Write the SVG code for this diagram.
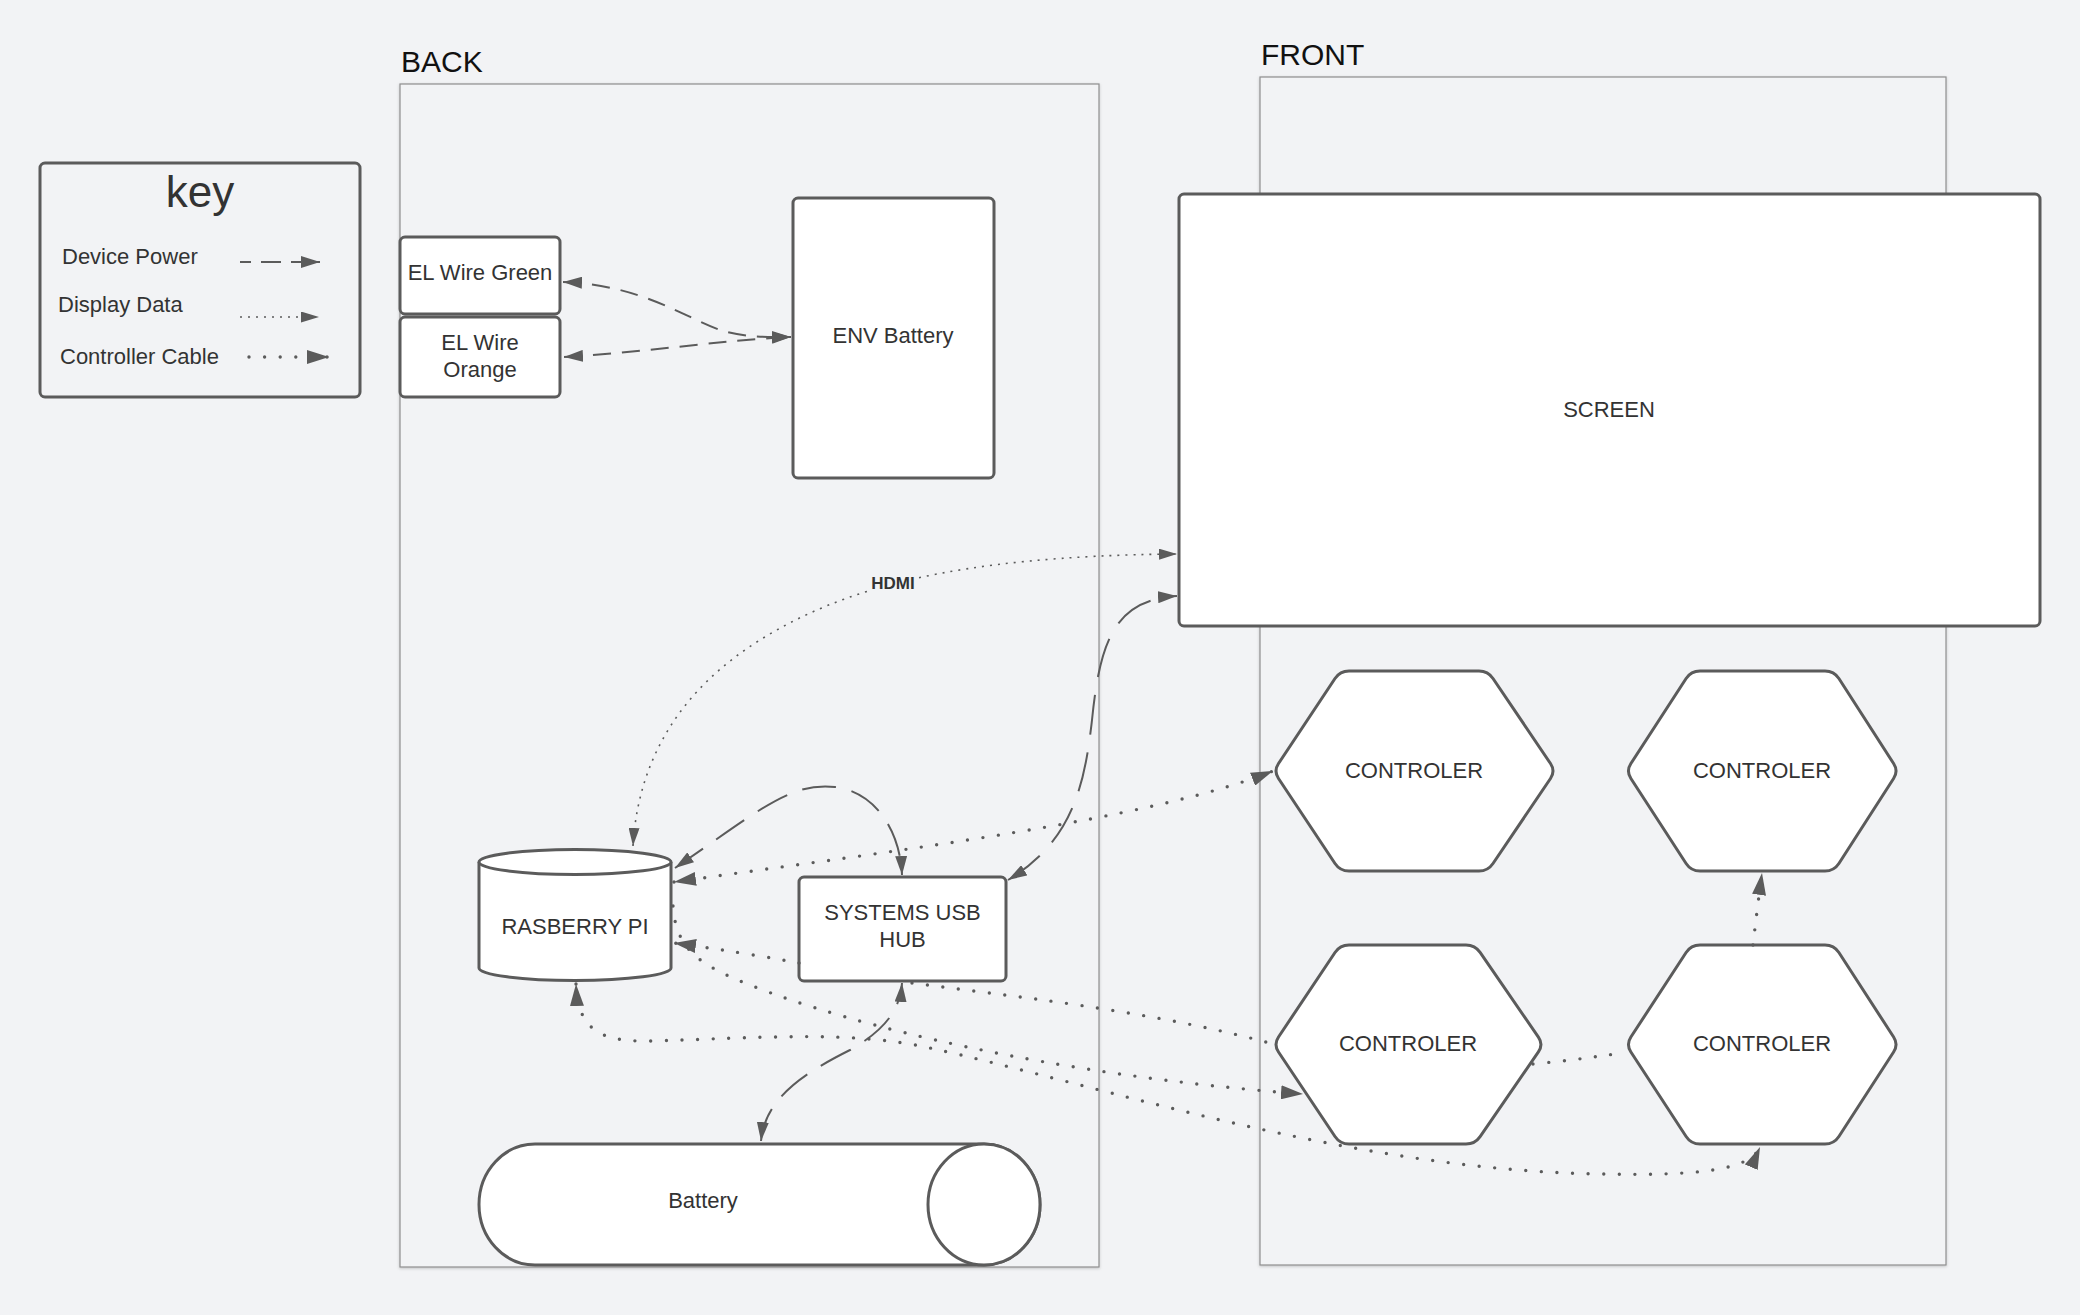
<svg xmlns="http://www.w3.org/2000/svg" width="2080" height="1315" viewBox="0 0 2080 1315">
<style>
.bg{fill:#f2f3f5}
.panel{fill:#f2f3f5;stroke:#8e8e8e;stroke-width:1.2}
.node{fill:#ffffff;stroke:#5b5b5b;stroke-width:3;stroke-linejoin:round}
.t{font-family:"Liberation Sans",Arial,sans-serif;font-size:22px;fill:#333333;text-anchor:middle}
.kt{font-family:"Liberation Sans",Arial,sans-serif;font-size:22px;fill:#333333}
.title{font-family:"Liberation Sans",Arial,sans-serif;font-size:30px;fill:#111111}
.pow{fill:none;stroke:#5b5b5b;stroke-width:2}
.data{fill:none;stroke:#5b5b5b;stroke-width:1.6;stroke-dasharray:2 6}
.ctl{fill:none;stroke:#5b5b5b;stroke-width:3.4;stroke-linecap:round;stroke-dasharray:0 15.6}
</style>
<defs>
<filter id="sh" x="-5%" y="-5%" width="110%" height="110%">
<feDropShadow dx="0" dy="1" stdDeviation="1.5" flood-color="#000" flood-opacity="0.2"/>
</filter>
<marker id="aP" viewBox="0 0 19 12" refX="19" refY="6" markerWidth="19" markerHeight="12" markerUnits="userSpaceOnUse" orient="auto-start-reverse"><path d="M0,0 L19,6 L0,12 Z" fill="#5b5b5b" stroke="none"/></marker>
<marker id="aD" viewBox="0 0 18 11" refX="18" refY="5.5" markerWidth="18" markerHeight="11" markerUnits="userSpaceOnUse" orient="auto-start-reverse"><path d="M0,0 L18,5.5 L0,11 Z" fill="#5b5b5b" stroke="none"/></marker>
<marker id="aC" viewBox="0 0 22 14" refX="22" refY="7" markerWidth="22" markerHeight="14" markerUnits="userSpaceOnUse" orient="auto-start-reverse"><path d="M0,0 L22,7 L0,14 Z" fill="#5b5b5b" stroke="none"/></marker>
</defs>
<rect class="bg" x="0" y="0" width="2080" height="1315"/>

<g id="key">
<rect x="40" y="163" width="320" height="234" rx="5" fill="none" stroke="#5b5b5b" stroke-width="3"/>
<text x="200" y="207" font-family="Liberation Sans, Arial, sans-serif" font-size="44" fill="#333" text-anchor="middle">key</text>
<text class="kt" x="62" y="264">Device Power</text>
<text class="kt" x="58" y="312">Display Data</text>
<text class="kt" x="60" y="364">Controller Cable</text>
<path class="pow" d="M240,262 H320" stroke-dasharray="11 10 20 10 40" marker-end="url(#aP)"/>
<path class="data" d="M240,317 H319" stroke-dasharray="3 7" stroke-width="1.8" marker-end="url(#aD)"/>
<path class="ctl" d="M249,357 H329" stroke-dasharray="0 8.3" stroke-width="3.8" marker-end="url(#aC)"/>
</g>

<g id="back-panel">
<rect class="panel" x="400" y="84" width="699" height="1183" filter="url(#sh)"/>
<text class="title" x="401" y="72">BACK</text>
</g>
<g id="front-panel">
<rect class="panel" x="1260" y="77" width="686" height="1188" filter="url(#sh)"/>
<text class="title" x="1261" y="65">FRONT</text>
</g>

<g id="el-wire-green">
<rect class="node" x="400" y="237" width="160" height="77" rx="5"/>
<text class="t" x="480" y="280">EL Wire Green</text>
</g>
<g id="el-wire-orange">
<rect class="node" x="400" y="317" width="160" height="80" rx="5"/>
<text class="t" x="480" y="350">EL Wire</text>
<text class="t" x="480" y="377">Orange</text>
</g>
<g id="env-battery">
<rect class="node" x="793" y="198" width="201" height="280" rx="5"/>
<text class="t" x="893" y="343">ENV Battery</text>
</g>
<g id="screen">
<rect class="node" x="1179" y="194" width="861" height="432" rx="5"/>
<text class="t" x="1609" y="417">SCREEN</text>
</g>
<g id="raspberry-pi">
<path class="node" d="M479,862 A96,12.5 0 0 1 671,862 V968 A96,12.5 0 0 1 479,968 Z"/>
<path class="node" d="M479,862 A96,12.5 0 0 0 671,862"/>
<text class="t" x="575" y="934">RASBERRY PI</text>
</g>
<g id="usb-hub">
<rect class="node" x="799" y="877" width="207" height="104" rx="5"/>
<text class="t" x="902.5" y="920">SYSTEMS USB</text>
<text class="t" x="902.5" y="947">HUB</text>
</g>
<g id="battery">
<path class="node" d="M535,1144 L984,1144 A56,60.5 0 0 1 984,1265 L535,1265 A56,60.5 0 0 1 535,1144 Z"/>
<ellipse class="node" cx="984" cy="1204.5" rx="56" ry="60.5"/>
<text class="t" x="703" y="1208">Battery</text>
</g>
<g id="controller-1">
<path class="node" d="M1278.5,763.5 L1335,678.5 Q1340,671 1349,671 L1479,671 Q1488,671 1493,678.5 L1550.5,763.5 Q1555.5,771 1550.5,778.5 L1493,863.5 Q1488,871 1479,871 L1349,871 Q1340,871 1335,863.5 L1278.5,778.5 Q1273.5,771 1278.5,763.5 Z"/>
<text class="t" x="1414" y="777.5">CONTROLER</text>
</g>
<g id="controller-2">
<path class="node" d="M1630.9,763.5 L1686.1,678.5 Q1691,671 1700,671 L1825,671 Q1834,671 1838.9,678.5 L1893.6,763.5 Q1898.5,771 1893.6,778.5 L1838.9,863.5 Q1834,871 1825,871 L1700,871 Q1691,871 1686.1,863.5 L1630.9,778.5 Q1626,771 1630.9,763.5 Z"/>
<text class="t" x="1762" y="777.5">CONTROLER</text>
</g>
<g id="controller-3">
<path class="node" d="M1278.5,1037 L1335,952.5 Q1340,945 1349,945 L1466,945 Q1475,945 1480.1,952.4 L1538.4,1037.1 Q1543.5,1044.5 1538.4,1051.9 L1480.1,1136.6 Q1475,1144 1466,1144 L1349,1144 Q1340,1144 1335,1136.5 L1278.5,1052 Q1273.5,1044.5 1278.5,1037 Z"/>
<text class="t" x="1408" y="1051">CONTROLER</text>
</g>
<g id="controller-4">
<path class="node" d="M1630.9,1037 L1686.1,952.5 Q1691,945 1700,945 L1825,945 Q1834,945 1838.9,952.5 L1893.6,1037 Q1898.5,1044.5 1893.6,1052 L1838.9,1136.5 Q1834,1144 1825,1144 L1700,1144 Q1691,1144 1686.1,1136.5 L1630.9,1052 Q1626,1044.5 1630.9,1037 Z"/>
<text class="t" x="1762" y="1051">CONTROLER</text>
</g>

<g id="connectors">
<!-- device power -->
<path class="pow" stroke-dasharray="18 11" d="M563,282 C640,285 680,315 720,330 C745,338 770,337 791,337" marker-start="url(#aP)" marker-end="url(#aP)"/>
<path class="pow" stroke-dasharray="18 11" d="M564,357 C650,352 720,340 791,337" marker-start="url(#aP)" marker-end="url(#aP)"/>
<path class="pow" stroke-dasharray="34 16" d="M675,868 C760,810 790,782 835,787 C875,792 900,830 902,875" marker-start="url(#aP)" marker-end="url(#aP)"/>
<path class="pow" stroke-dasharray="40 18" d="M1008,880 C1075,840 1085,780 1092,720 C1100,640 1115,600 1177,596" marker-start="url(#aP)" marker-end="url(#aP)"/>
<path class="pow" stroke-dasharray="34 16" d="M761,1141 C765,1100 800,1075 850,1050 C885,1030 900,1010 902,983" marker-start="url(#aP)" marker-end="url(#aP)"/>
<!-- display data -->
<path class="data" d="M633,846 C638,760 680,690 760,640 C840,590 950,556 1177,554" marker-start="url(#aD)" marker-end="url(#aD)"/>
<rect x="868" y="572" width="50" height="23" fill="#f2f3f5"/>
<text x="893" y="589" font-family="Liberation Sans, Arial, sans-serif" font-size="17" font-weight="bold" fill="#333" text-anchor="middle">HDMI</text>
<!-- controller cable -->
<path class="ctl" d="M674,882 C900,850 1150,820 1273,771" marker-start="url(#aC)" marker-end="url(#aC)"/>
<path class="ctl" d="M799,963 Q740,952 674,943" marker-end="url(#aC)"/>
<path class="ctl" d="M673,906 C676,950 700,965 750,985 C850,1025 1050,1075 1303,1094" marker-end="url(#aC)"/>
<path class="ctl" d="M576,984 C578,1030 600,1042 650,1041 C760,1038 850,1030 930,1048 C1100,1085 1350,1170 1600,1174 C1700,1176 1750,1170 1760,1147" marker-start="url(#aC)" marker-end="url(#aC)"/>
<path class="ctl" d="M912,983 C1000,995 1150,1010 1273,1044"/>
<path class="ctl" d="M1533,1064 Q1575,1060 1615,1054"/>
<path class="ctl" d="M1753,945 Q1757,910 1762,873" marker-end="url(#aC)"/>
</g>
</svg>
